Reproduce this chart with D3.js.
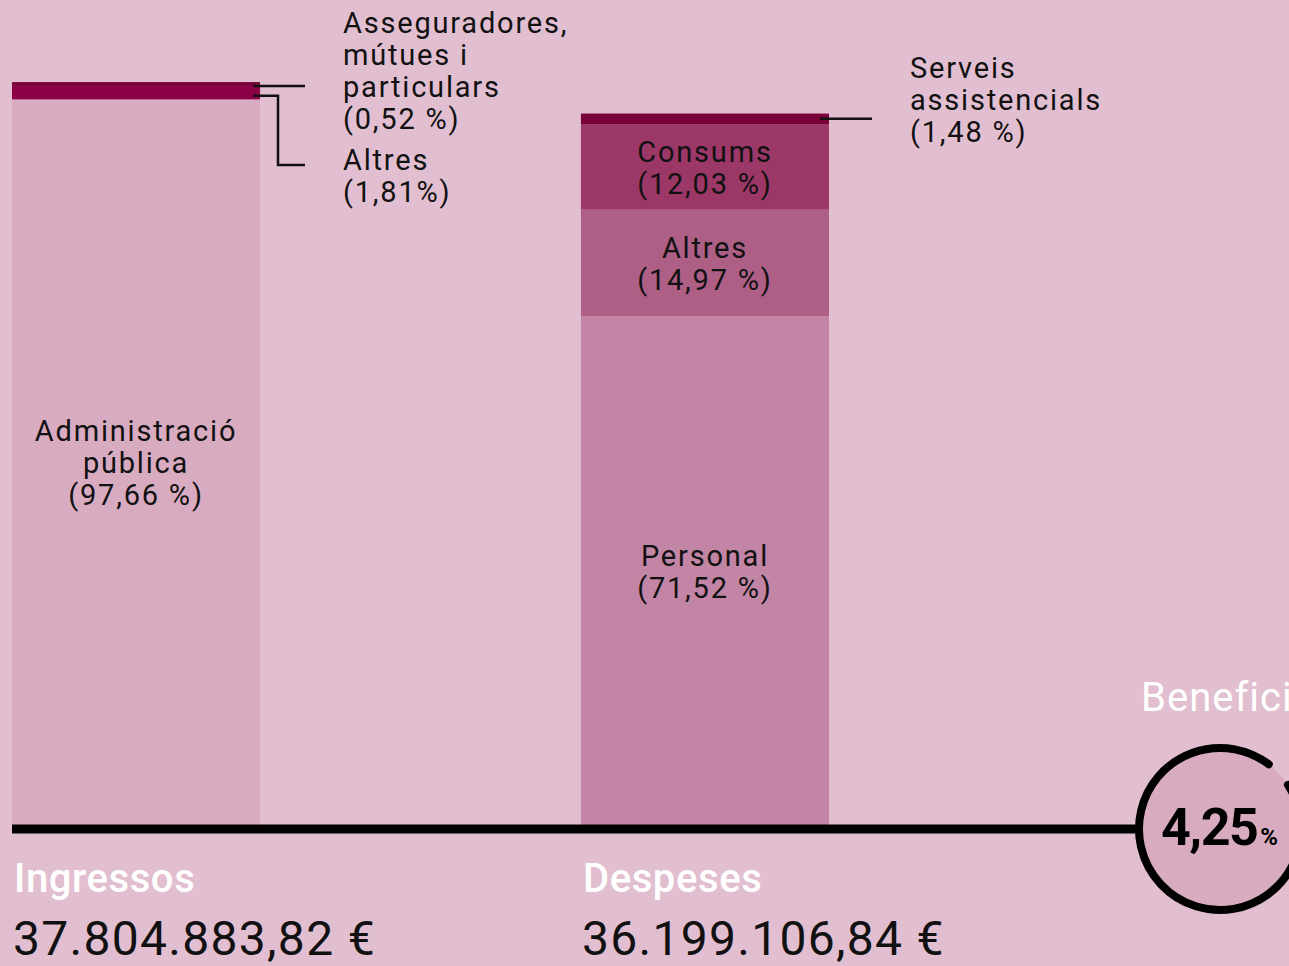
<!DOCTYPE html>
<html>
<head>
<meta charset="utf-8">
<script src="https://cdn.jsdelivr.net/npm/d3@7"></script>
<style>
  html, body { margin: 0; padding: 0; background: #e2bfd0; overflow: hidden; }
  svg { display: block; }
  text { font-family: Roboto, "DejaVu Sans", sans-serif; }
</style>
</head>
<body>
<svg id="chart" width="1289" height="966"></svg>
<script>
// totals per bar (euros)
var bars = ["Ingressos", "Despeses"];
var totals = [37804883.82, 36199106.84];
var totalLabels = ["37.804.883,82 €", "36.199.106,84 €"];

// income segments, bottom to top (% of income)
var incomeNames = ["Administració pública", "Altres", "Asseguradores, mútues i particulars"];
var incomePct = [97.66, 1.81, 0.52];
var incomeText = [["Administració", "pública", "(97,66 %)"], ["Altres", "(1,81%)"], ["Asseguradores,", "mútues i", "particulars", "(0,52 %)"]];

// expense segments, bottom to top (% of expenses)
var expenseNames = ["Personal", "Altres", "Consums", "Serveis assistencials"];
var expensePct = [71.52, 14.97, 12.03, 1.48];
var expenseText = [["Personal", "(71,52 %)"], ["Altres", "(14,97 %)"], ["Consums", "(12,03 %)"], ["Serveis", "assistencials", "(1,48 %)"]];

var profitLabel = "Beneficis";
var profitValue = "4,25";

var incomeColors = ["#d9abc1", "#8c0046", "#7a003a"];
var expenseColors = ["#c385a5", "#ae5f86", "#9c3868", "#7a0039"];

var svg = d3.select("#chart");
var baseY = 825;

var x = d3.scaleBand()
  .domain(bars)
  .range([12, 829])
  .paddingInner(0.564)
  .paddingOuter(0);

var y = d3.scaleLinear()
  .domain([0, totals[0]])
  .range([baseY, 82]);

/* Build stacked segments from percentages */
function stackUp(pcts, total, names, texts, colors, bar) {
  var acc = 0;
  return pcts.map(function(p, i) {
    var v0 = acc, v1 = acc + total * p / 100;
    acc = v1;
    return {bar: bar, name: names[i], text: texts[i], color: colors[i], y0: y(v0), y1: y(v1)};
  });
}

var incomeSegs = stackUp(incomePct, totals[0], incomeNames, incomeText, incomeColors, bars[0]);
var expenseSegs = stackUp(expensePct, totals[1], expenseNames, expenseText, expenseColors, bars[1]);
var segs = incomeSegs.concat(expenseSegs);

svg.selectAll("rect.seg")
  .data(segs)
  .enter().append("rect")
  .attr("class", "seg")
  .attr("x", (d) => x(d.bar))
  .attr("width", x.bandwidth())
  .attr("y", (d) => d.y1)
  .attr("height", (d) => d.y0 - d.y1)
  .attr("fill", (d) => d.color);

/* Labels inside the big segments */
var inside = [incomeSegs[0], expenseSegs[0], expenseSegs[1], expenseSegs[2]];
var lh = 32;
var labelSize = 29, labelSpacing = 1.8;
inside.forEach(function(d) {
  var cx = x(d.bar) + x.bandwidth() / 2;
  var mid = (d.y0 + d.y1) / 2;
  var n = d.text.length;
  var t = svg.append("text")
    .attr("text-anchor", "middle")
    .attr("font-size", labelSize)
    .attr("letter-spacing", labelSpacing)
    .attr("fill", "#111");
  d.text.forEach(function(line, i) {
    t.append("tspan")
      .attr("x", cx)
      .attr("y", mid + (i - (n - 1) / 2) * lh + 11)
      .text(line);
  });
});

/* Outside labels with connectors */
function outsideLabel(lines, tx, firstBaseline) {
  var t = svg.append("text")
    .attr("font-size", labelSize)
    .attr("letter-spacing", labelSpacing)
    .attr("fill", "#111");
  lines.forEach(function(line, i) {
    t.append("tspan").attr("x", tx).attr("y", firstBaseline + i * lh).text(line);
  });
}

var right0 = x(bars[0]) + x.bandwidth();
var right1 = x(bars[1]) + x.bandwidth();
var assegur = incomeSegs[2], altresIn = incomeSegs[1], serveis = expenseSegs[3];

var conn = svg.append("g")
  .attr("fill", "none")
  .attr("stroke", "#111")
  .attr("stroke-width", 2.5);

conn.append("path")
  .attr("d", `M${right0 - 7},${(assegur.y0 + assegur.y1) / 2 + 2}H305`);
conn.append("path")
  .attr("d", `M${right0 - 7},${(altresIn.y0 + altresIn.y1) / 2 + 3}H278V165H305`);
conn.append("path")
  .attr("d", `M${right1 - 9},${(serveis.y0 + serveis.y1) / 2}H872`);

outsideLabel(assegur.text, 343, 33);
outsideLabel(altresIn.text, 343, 170);
outsideLabel(serveis.text, 910, 78);

/* Baseline */
var cx = 1220, cy = 829, r = 81;
svg.append("line")
  .attr("x1", 12).attr("x2", cx - r)
  .attr("y1", cy).attr("y2", cy)
  .attr("stroke", "#000")
  .attr("stroke-width", 9);

/* Profit circle */
svg.append("circle")
  .attr("cx", cx).attr("cy", cy).attr("r", r)
  .attr("fill", "#d9abc1");

var toRad = (deg) => (deg - 90) * Math.PI / 180;
var p = d3.path();
p.moveTo(cx + r * Math.cos(toRad(57)), cy + r * Math.sin(toRad(57)));
p.arc(cx, cy, r, toRad(57), toRad(397));
svg.append("path")
  .attr("d", p.toString())
  .attr("fill", "none")
  .attr("stroke", "#000")
  .attr("stroke-width", 8)
  .attr("stroke-linecap", "round");

var pv = svg.append("text")
  .attr("x", 1161)
  .attr("y", 845)
  .attr("fill", "#000");
pv.append("tspan")
  .attr("font-size", 52)
  .attr("font-weight", "bold")
  .attr("letter-spacing", -1.5)
  .text(profitValue);
pv.append("tspan")
  .attr("font-size", 24)
  .attr("font-weight", "bold")
  .attr("dx", 3)
  .text("%");

svg.append("text")
  .attr("x", 1141)
  .attr("y", 711)
  .attr("font-size", 40)
  .attr("letter-spacing", 1)
  .attr("fill", "#fff")
  .text(profitLabel);

/* Bar captions */
bars.forEach(function(b, i) {
  svg.append("text")
    .attr("x", x(b) + 2)
    .attr("y", 892)
    .attr("font-size", 40)
    .attr("font-weight", 500)
    .attr("letter-spacing", 0.6)
    .attr("fill", "#fff")
    .text(b);
  svg.append("text")
    .attr("x", x(b) + 1)
    .attr("y", 955)
    .attr("font-size", 48)
    .attr("letter-spacing", 1.3)
    .attr("fill", "#111")
    .text(totalLabels[i]);
});
</script>
</body>
</html>
